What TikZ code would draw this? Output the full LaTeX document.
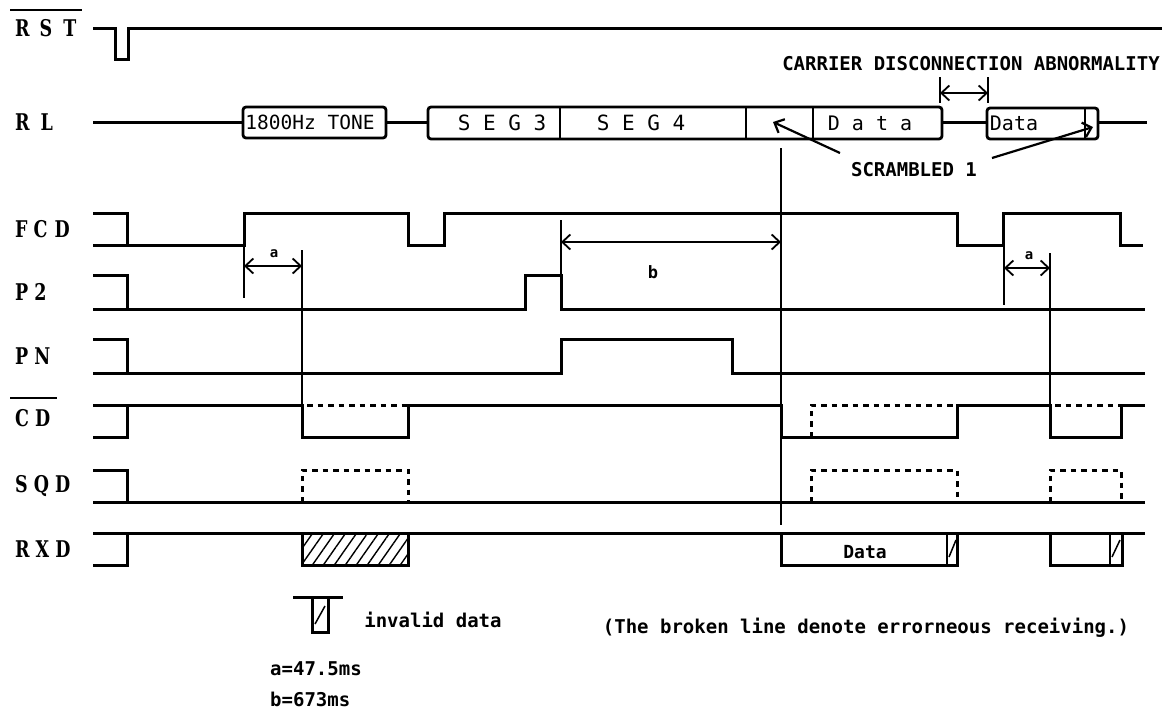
\documentclass[tikz,border=0pt]{standalone}
\usepackage{fontspec}
\usetikzlibrary{arrows.meta,patterns.meta}
\newfontfamily\monof{DejaVu Sans Mono}
\newfontfamily\lblf[FakeStretch=0.76]{DejaVu Serif}
\tikzset{
  sig/.style={line width=3pt, line join=miter},
  thinl/.style={line width=1.5pt},
  dotl/.style={line width=3pt, dash pattern=on 5.5pt off 5pt},
  boxl/.style={line width=2.8pt, rounded corners=3pt},
  divl/.style={line width=2.2pt},
  mybarb/.tip={Straight Barb[length=8pt,width=15pt]},
  dimarr/.style={line width=1.8pt, mybarb-mybarb},
  ptarr/.style={line width=2.2pt, -mybarb},
  sname/.style={anchor=west, inner sep=0pt, font=\lblf\bfseries\fontsize{23}{23}\selectfont},
  mtxt/.style={inner sep=0pt, font=\monof\bfseries\fontsize{19}{19}\selectfont},
  rtxt/.style={inner sep=0pt, font=\monof\fontsize{20}{20}\selectfont},
  dlbl/.style={inner sep=0pt, font=\monof\bfseries\fontsize{14}{14}\selectfont},
  hatch/.style={pattern={Lines[angle=55,distance=9pt,line width=1.4pt]}},
}
\begin{document}
\begin{tikzpicture}[x=1pt,y=-1pt]
\useasboundingbox (0,0) rectangle (1168,713);

% ---------- signal names ----------
\node[sname] (rst) at (15,28) {R\hspace{10pt}S\hspace{11pt}T};
\draw[line width=1.8pt] (10,10) -- (82,10);
\node[sname] (rl) at (15,122) {R\hspace{11pt}L};
\node[sname] (fcd) at (15,229) {F\hspace{6pt}C\hspace{7pt}D};
\node[sname] (p2) at (15,292) {P\hspace{6pt}2};
\node[sname] (pn) at (15,356) {P\hspace{6pt}N};
\node[sname] (cd) at (15,418) {C\hspace{6pt}D};
\draw[line width=1.8pt] (10,398) -- (57,398);
\node[sname] (sqd) at (15,486) {S\hspace{6pt}Q\hspace{6pt}D};
\node[sname] (rxd) at (15,549) {R\hspace{6pt}X\hspace{6pt}D};

% ---------- RST ----------
\draw[sig] (93,28) -- (115,28) -- (115,59) -- (128,59) -- (128,28) -- (1162,28);

% ---------- RL ----------
\draw[sig] (93,122) -- (243,122);
\draw[boxl] (243,107) rectangle (386,138);
\node[rtxt, font=\monof\fontsize{19.5}{19.5}\selectfont] (tone) at (310,122) {1800Hz TONE};
\draw[sig] (386,122) -- (428,122);
\draw[boxl] (428,107) rectangle (942,139);
\draw[divl] (560,107) -- (560,139);
\draw[divl] (746,107) -- (746,139);
\draw[divl] (813,107) -- (813,139);
\node[rtxt, font=\monof\fontsize{21}{21}\selectfont] (seg3) at (502,123) {S E G 3};
\node[rtxt, font=\monof\fontsize{21}{21}\selectfont] (seg4) at (641,123) {S E G 4};
\node[rtxt] (data1) at (870,123) {D a t a};
\draw[sig] (942,122) -- (987,122);
\draw[boxl] (987,108) rectangle (1098,139);
\draw[divl] (1085,108) -- (1085,139);
\node[rtxt] (data2) at (1014,123) {Data};
\draw[sig] (1098,122) -- (1147,122);

% carrier disconnection
\node[mtxt] (carrier) at (971,64) {CARRIER DISCONNECTION ABNORMALITY};
\draw[thinl] (940,77) -- (940,103);
\draw[thinl] (988,77) -- (988,103);
\coordinate (cl) at (940,93);
\coordinate (cr) at (988,93);
\draw[dimarr] (cl) -- (cr);

% scrambled 1
\node[mtxt] (scr) at (914,170) {SCRAMBLED 1};
\coordinate (s1t) at (840,153);
\coordinate (s1h) at (773,122);
\coordinate (s2t) at (992,158);
\coordinate (s2h) at (1093,127);
\draw[ptarr] (s1t) -- (s1h);
\draw[ptarr] (s2t) -- (s2h);

% ---------- FCD ----------
\draw[sig] (93,213) -- (127,213) -- (127,245);
\draw[sig] (93,245) -- (244,245) -- (244,213) -- (408,213) -- (408,245) -- (444,245) -- (444,213)
  -- (957,213) -- (957,245) -- (1003,245) -- (1003,213) -- (1120,213) -- (1120,245) -- (1143,245);

% ---------- P2 ----------
\draw[sig] (93,275) -- (127,275) -- (127,309);
\draw[sig] (93,309) -- (525,309) -- (525,275) -- (561,275) -- (561,309) -- (1145,309);

% ---------- PN ----------
\draw[sig] (93,339) -- (127,339) -- (127,373);
\draw[sig] (93,373) -- (561,373) -- (561,339) -- (732,339) -- (732,373) -- (1145,373);

% ---------- CD ----------
\draw[sig] (93,437) -- (127,437) -- (127,405);
\draw[sig] (93,405) -- (302,405) -- (302,437) -- (408,437) -- (408,405) -- (781,405) -- (781,437)
  -- (957,437) -- (957,405) -- (1050,405) -- (1050,437) -- (1121,437) -- (1121,405) -- (1145,405);
\draw[dotl] (307,405) -- (408,405);
\draw[dotl] (811,437) -- (811,405) -- (957,405);
\draw[dotl] (1055,405) -- (1121,405);

% ---------- SQD ----------
\draw[sig] (93,470) -- (127,470) -- (127,502);
\draw[sig] (93,502) -- (1145,502);
\draw[dotl] (302,502) -- (302,470) -- (408,470) -- (408,502);
\draw[dotl] (811,502) -- (811,470) -- (957,470) -- (957,502);
\draw[dotl] (1050,502) -- (1050,470) -- (1121,470) -- (1121,502);

% ---------- RXD ----------
\draw[sig] (93,533) -- (1145,533);
\draw[sig] (93,565) -- (127,565) -- (127,533);
\fill[hatch] (302,533) rectangle (408,565);
\draw[sig] (302,533) -- (302,565) -- (408,565) -- (408,533);
\draw[sig] (781,533) -- (781,565) -- (957,565) -- (957,533);
\draw[divl] (947,533) -- (947,565);
\draw[thinl] (949,557) -- (956,540);
\node[mtxt, font=\monof\bfseries\fontsize{18}{18}\selectfont] (data3) at (865,552) {Data};
\draw[sig] (1050,533) -- (1050,565) -- (1122,565) -- (1122,533);
\draw[divl] (1110,533) -- (1110,565);
\draw[thinl] (1112,557) -- (1120,540);

% ---------- timing marks ----------
\draw[thinl] (244,245) -- (244,298);
\draw[thinl] (302,250) -- (302,405);
\coordinate (a1l) at (244,266);
\coordinate (a1r) at (302,266);
\draw[dimarr] (a1l) -- (a1r);
\node[dlbl] (alab1) at (274,254) {a};

\draw[thinl] (561,220) -- (561,275);
\coordinate (bl) at (561,242);
\coordinate (br) at (781,242);
\draw[dimarr] (bl) -- (br);
\node[dlbl, font=\monof\bfseries\fontsize{17}{17}\selectfont] (blab) at (653,272) {b};

\draw[thinl] (781,148) -- (781,525);

\draw[thinl] (1004,245) -- (1004,305);
\draw[thinl] (1050,253) -- (1050,405);
\coordinate (a2l) at (1004,268);
\coordinate (a2r) at (1050,268);
\draw[dimarr] (a2l) -- (a2r);
\node[dlbl] (alab2) at (1029,256) {a};

% ---------- legend ----------
\draw[sig] (293,597) -- (343,597);
\draw[sig] (312,597) -- (312,632) -- (328,632) -- (328,597);
\draw[thinl] (315,624) -- (325,606);
\node[mtxt] (inval) at (433,620) {invalid data};
\node[mtxt, anchor=west] (aval) at (270,669) {a=47.5ms};
\node[mtxt, anchor=west] (bval) at (270,699) {b=673ms};
\node[mtxt] (caption) at (866,628) {(The broken line denote errorneous receiving.)};
\end{tikzpicture}
\end{document}
